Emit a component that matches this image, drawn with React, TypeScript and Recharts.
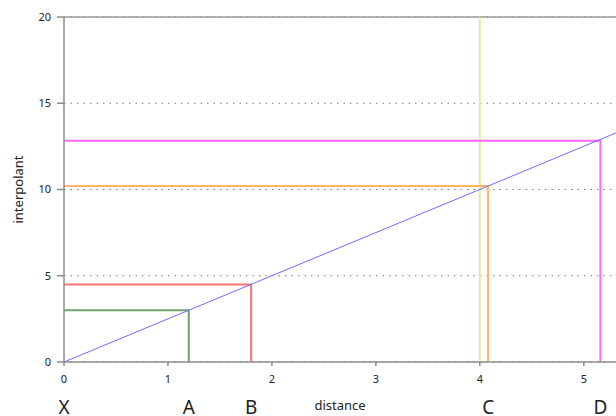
import { LineChart, Line, XAxis, YAxis, CartesianGrid, ReferenceLine, Label } from 'recharts';

const xTicks = [0, 1, 2, 3, 4, 5];
const yTicks = [0, 5, 10, 15, 20];

// interpolation line y = 2.5x, drawn to the right edge
const lineX = [0, 5.31];
const lineY = [0, 13.28];

// points picked off the line, each shown as an L back to the axes
const pointNames = ['A', 'B', 'C', 'D'];
const pointX = [1.2, 1.8, 4.08, 5.16];
const pointY = [3, 4.5, 10.2, 12.83];
const pointColors = ['#6fa36f', '#ff7272', '#ffb366', '#ff66ff'];

// vertical marker at x = 4
const markerX = 4;
const markerY = [0, 20];

const FONT = "'Noto Sans', 'Open Sans', sans-serif";

const fitData = lineX.map((x, i) => ({ x, y: lineY[i] }));
const markerData = markerY.map((y) => ({ x: markerX, y }));
const cornerData = pointX.map((px, i) => [
  { x: 0, y: pointY[i] },
  { x: px, y: pointY[i] },
  { x: px, y: 0 },
]);

const letterNames = ['X', ...pointNames];
const letterX = [0, ...pointX];

export default function App() {
  return (
    <div style={{ position: 'absolute', left: 0, top: 0, width: 616, height: 416, overflow: 'hidden', background: '#fff' }}>
      <LineChart width={616} height={416} margin={{ top: 17, right: 0, bottom: 0, left: 0 }}>
        <CartesianGrid vertical={false} stroke="#7a7a7a" strokeDasharray="1.5 5" />
        <XAxis
          type="number"
          dataKey="x"
          domain={[0, 5.31]}
          ticks={xTicks}
          allowDataOverflow
          height={54}
          tickSize={4}
          tickMargin={9}
          stroke="#8c8c8c"
          strokeWidth={1.5}
          tick={{ fontSize: 11, fill: '#222', fontFamily: FONT }}
        >
          <Label value="distance" position="insideBottom" offset={6} style={{ fontSize: 13, fill: '#222', fontFamily: FONT }} />
        </XAxis>
        <YAxis
          type="number"
          domain={[0, 20]}
          ticks={yTicks}
          width={64}
          tickSize={7}
          tickMargin={6}
          stroke="#8c8c8c"
          strokeWidth={1.5}
          tick={{ fontSize: 11, fill: '#222', fontFamily: FONT }}
        >
          <Label
            value="interpolant"
            angle={-90}
            position="insideLeft"
            offset={18}
            style={{ fontSize: 13, fill: '#222', fontFamily: FONT, textAnchor: 'middle' }}
          />
        </YAxis>
        <ReferenceLine y={20} stroke="#999" strokeWidth={1.5} />
        {letterNames.map((name, i) => (
          <ReferenceLine key={name} x={letterX[i]} stroke="none">
            <Label value={name} position="bottom" offset={39} style={{ fontSize: 19, fill: '#222', fontFamily: FONT }} />
          </ReferenceLine>
        ))}
        <Line data={markerData} dataKey="y" stroke="#e9e99a" strokeWidth={2} dot={false} isAnimationActive={false} />
        {cornerData.map((d, i) => (
          <Line
            key={pointNames[i]}
            data={d}
            dataKey="y"
            stroke={pointColors[i]}
            strokeWidth={2}
            dot={false}
            isAnimationActive={false}
          />
        ))}
        <Line data={fitData} dataKey="y" stroke="#6c6cff" strokeWidth={1} dot={false} isAnimationActive={false} />
      </LineChart>
    </div>
  );
}
